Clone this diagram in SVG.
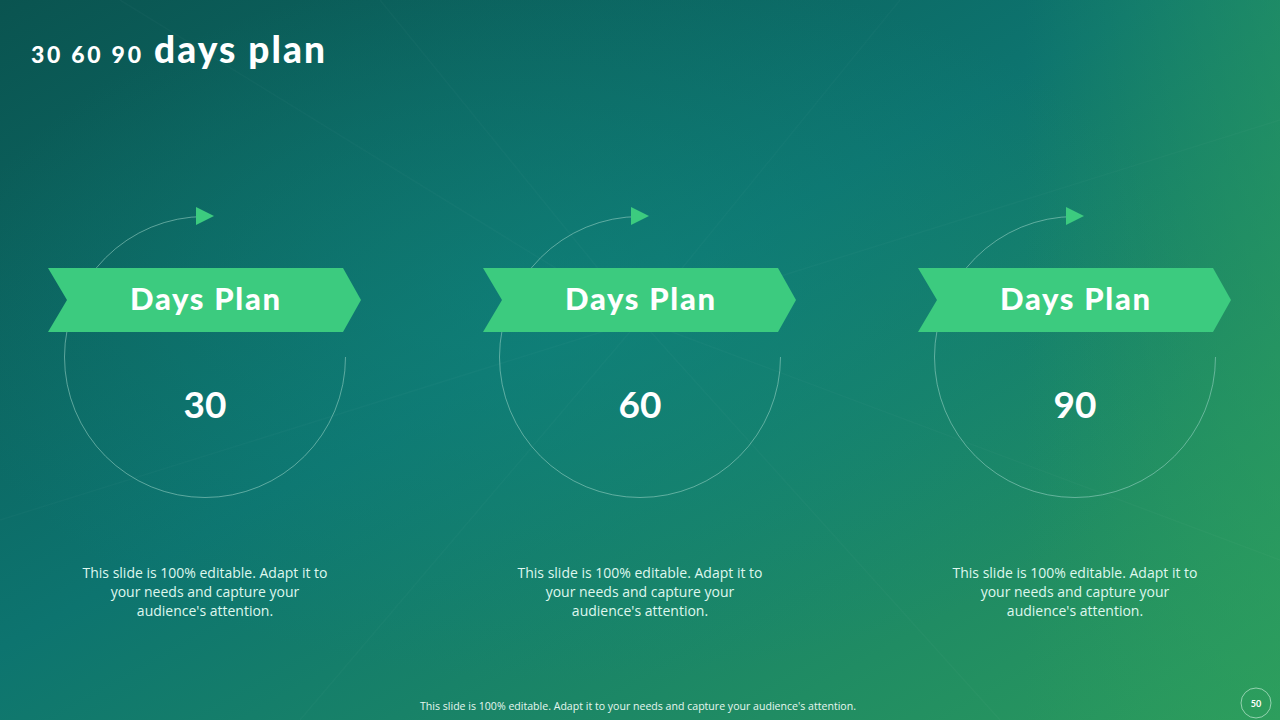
<svg xmlns="http://www.w3.org/2000/svg" width="1280" height="720" viewBox="0 0 1280 720">
<defs>
<linearGradient id="bg" x1="0" y1="0" x2="1" y2="1">
<stop offset="0" stop-color="#0a5450"/>
<stop offset="0.45" stop-color="#0d746f"/>
<stop offset="1" stop-color="#2b9a5c"/>
</linearGradient>
<linearGradient id="edge" x1="0" y1="0" x2="1" y2="0">
<stop offset="0.8" stop-color="#2fa35e" stop-opacity="0"/>
<stop offset="1" stop-color="#2fa35e" stop-opacity="0.45"/>
</linearGradient>
<radialGradient id="glow" cx="0.45" cy="0.45" r="0.5">
<stop offset="0" stop-color="#128a80" stop-opacity="0.5"/>
<stop offset="1" stop-color="#128a80" stop-opacity="0"/>
</radialGradient>
<g id="unit">
<path class="ring" d="M0,-140.5 A140.5,140.5 0 1 0 140.5,0"/>
<polygon class="green" points="-9,-150 9,-141 -9,-132"/>
<polygon class="green" points="-157,-89 138,-89 156,-57 138,-25 -157,-25 -138,-57"/>
</g>
</defs>
<style>
.ring{fill:none;stroke:#9fd6c8;stroke-opacity:0.55;stroke-width:1}
.green{fill:#3ccb7f}
.hd{font-family:Lato,"Open Sans",sans-serif;font-weight:900;fill:#ffffff}
.dp{font-family:Lato,"Open Sans",sans-serif;font-weight:900;font-size:31px;fill:#ffffff;text-anchor:middle}
.num{font-family:Lato,"Open Sans",sans-serif;font-weight:700;font-size:37px;fill:#ffffff;text-anchor:middle}
.bp{font-family:"Open Sans","Noto Sans",sans-serif;font-size:14px;fill:#dff7ee;text-anchor:middle}
.bg-line{stroke:#ffffff;stroke-opacity:0.025;stroke-width:1.5}
</style>
<rect width="1280" height="720" fill="url(#bg)"/>
<rect width="1280" height="720" fill="url(#glow)"/>
<rect width="1280" height="720" fill="url(#edge)"/>
<g id="bg-lines">
<line class="bg-line" x1="120" y1="0" x2="640" y2="320"/>
<line class="bg-line" x1="380" y1="0" x2="640" y2="320"/>
<line class="bg-line" x1="900" y1="0" x2="640" y2="320"/>
<line class="bg-line" x1="1280" y1="120" x2="640" y2="320"/>
<line class="bg-line" x1="0" y1="520" x2="640" y2="320"/>
<line class="bg-line" x1="300" y1="720" x2="640" y2="320"/>
<line class="bg-line" x1="1000" y1="720" x2="640" y2="320"/>
<line class="bg-line" x1="1280" y1="560" x2="640" y2="320"/>
</g>
<g id="title">
<text x="31" y="63" class="hd" font-size="23" textLength="110" lengthAdjust="spacing">30 60 90</text>
<text x="154" y="63" class="hd" font-size="37" textLength="171" lengthAdjust="spacing">days plan</text>
</g>
<g id="connectors"></g>
<g id="node-30">
<use href="#unit" x="205" y="357"/>
<text x="205" y="310" class="dp" textLength="150" lengthAdjust="spacing">Days Plan</text>
<text x="205" y="418" class="num">30</text>
<text class="bp"><tspan x="205" y="578">This slide is 100% editable. Adapt it to</tspan><tspan x="205" y="597">your needs and capture your</tspan><tspan x="205" y="616">audience's attention.</tspan></text>
</g>
<g id="node-60">
<use href="#unit" x="640" y="357"/>
<text x="640" y="310" class="dp" textLength="150" lengthAdjust="spacing">Days Plan</text>
<text x="640" y="418" class="num">60</text>
<text class="bp"><tspan x="640" y="578">This slide is 100% editable. Adapt it to</tspan><tspan x="640" y="597">your needs and capture your</tspan><tspan x="640" y="616">audience's attention.</tspan></text>
</g>
<g id="node-90">
<use href="#unit" x="1075" y="357"/>
<text x="1075" y="310" class="dp" textLength="150" lengthAdjust="spacing">Days Plan</text>
<text x="1075" y="418" class="num">90</text>
<text class="bp"><tspan x="1075" y="578">This slide is 100% editable. Adapt it to</tspan><tspan x="1075" y="597">your needs and capture your</tspan><tspan x="1075" y="616">audience's attention.</tspan></text>
</g>
<g id="footer">
<text x="638" y="709.5" font-family="'Open Sans','Noto Sans',sans-serif" font-size="10.5" fill="#e6f7ef" text-anchor="middle" textLength="436" lengthAdjust="spacingAndGlyphs">This slide is 100% editable. Adapt it to your needs and capture your audience's attention.</text>
<circle cx="1256" cy="703" r="15" fill="none" stroke="#bfe8d2" stroke-opacity="0.7" stroke-width="1"/>
<text x="1256" y="706.5" font-family="Lato,sans-serif" font-weight="700" font-size="9" fill="#ffffff" text-anchor="middle">50</text>
</g>
</svg>
